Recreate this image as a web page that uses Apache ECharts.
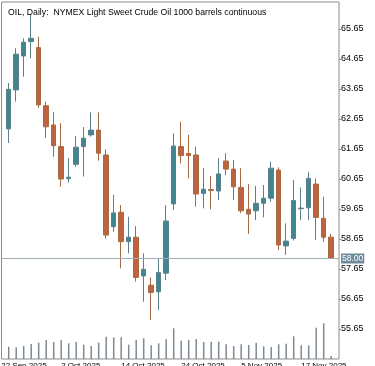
<!DOCTYPE html>
<html>
<head>
<meta charset="utf-8">
<style>html,body{margin:0;padding:0;background:#fff;}#c{width:375px;height:366px;}</style>
<script src="https://cdn.jsdelivr.net/npm/echarts@6/dist/echarts.min.js"></script>
</head>
<body>
<div id="c"></div>
<script>
const dates = ['22 Sep 2025','23 Sep 2025','24 Sep 2025','25 Sep 2025','26 Sep 2025','29 Sep 2025','30 Sep 2025','1 Oct 2025','2 Oct 2025',
  '3 Oct 2025','6 Oct 2025','7 Oct 2025','8 Oct 2025','9 Oct 2025','10 Oct 2025','13 Oct 2025','14 Oct 2025',
  '15 Oct 2025','16 Oct 2025','17 Oct 2025','20 Oct 2025','21 Oct 2025','22 Oct 2025','23 Oct 2025','24 Oct 2025',
  '27 Oct 2025','28 Oct 2025','29 Oct 2025','30 Oct 2025','31 Oct 2025','3 Nov 2025','4 Nov 2025','5 Nov 2025',
  '6 Nov 2025','7 Nov 2025','10 Nov 2025','11 Nov 2025','12 Nov 2025','13 Nov 2025','14 Nov 2025','17 Nov 2025',
  '18 Nov 2025','19 Nov 2025','20 Nov 2025','21 Nov 2025'];
// first date (22 Sep) is off the left edge: no visible candle
const opens  = [null,62.32,63.62,64.75,65.23,65.03,63.09,62.45,61.73,60.66,61.14,61.73,62.12,62.28,61.45,59.06,59.54,
  58.56,58.71,57.42,57.11,56.89,57.51,59.82,61.73,61.50,61.45,60.17,60.30,60.25,61.25,60.98,60.37,
  59.64,59.59,59.84,60.01,60.95,58.42,58.67,59.66,59.69,60.48,59.34,58.71];
const closes = [null,63.64,64.81,65.21,65.34,63.12,62.39,61.76,60.65,60.71,61.71,62.01,62.28,61.51,58.78,59.52,58.56,
  58.71,57.37,57.64,56.87,57.53,59.25,61.75,61.43,61.43,60.15,60.31,60.27,60.82,60.98,60.39,59.59,
  59.48,59.84,60.01,61.01,58.45,58.58,59.93,59.68,60.67,59.37,58.71,58.00];
const lows   = [null,61.85,63.23,64.06,64.67,63.02,62.02,61.39,60.39,60.53,61.06,60.73,62.06,61.26,58.67,58.89,57.67,
  58.17,57.23,56.56,55.95,56.28,57.28,59.62,61.17,60.67,59.73,59.67,59.64,59.95,60.78,59.95,59.51,
  58.82,59.28,59.37,59.89,58.28,58.12,58.60,59.28,59.28,58.62,58.56,57.98];
const highs  = [null,63.85,65.01,65.34,66.12,65.39,63.23,62.88,62.51,61.34,62.08,62.38,62.87,62.87,61.64,60.12,59.78,
  59.39,59.08,58.17,57.37,57.99,59.78,62.17,62.56,62.12,61.73,61.01,60.75,61.34,61.51,61.28,61.01,
  60.48,60.42,60.45,61.23,61.04,59.17,60.62,60.37,60.89,60.67,60.06,58.82];
const volumes = [null,308,292,325,375,408,475,425,475,392,425,358,325,408,558,542,542,
  358,475,518,342,392,492,768,458,475,500,425,432,432,368,325,368,
  350,408,318,300,368,382,568,342,342,782,892,75];
const priceTicks = [55.65,56.65,57.65,58.65,59.65,60.65,61.65,62.65,63.65,64.65,65.65];
const lastPrice = 58.00;
const titleText = 'OIL, Daily:  NYMEX Light Sweet Crude Oil 1000 barrels continuous';

const ohlc = dates.map((d, i) => opens[i] === null ? '-' : [opens[i], closes[i], lows[i], highs[i]]);
const yMin = 54.65, yMax = 66.55;
const FONT = 'Liberation Sans';

const chart = echarts.init(document.getElementById('c'), null, {renderer: 'canvas'});
chart.setOption({
  animation: false,
  backgroundColor: '#ffffff',
  title: {
    text: titleText, left: 3, top: 3,
    textStyle: {fontFamily: FONT, fontSize: 8.7, fontWeight: 'normal', color: '#000'}
  },
  grid: [
    {left: 1.5, right: 36, top: 2, height: 357, show: true, borderColor: '#8c8c8c', borderWidth: 1,
      backgroundColor: 'transparent', containLabel: false, outerBoundsMode: 'none'},
    {left: -2.55, width: 337.5, top: 2, height: 357, containLabel: false, outerBoundsMode: 'none'}
  ],
  xAxis: [
    {type: 'category', gridIndex: 0, data: dates, show: false},
    {type: 'category', gridIndex: 1, data: dates, boundaryGap: true,
      axisLine: {show: false}, axisTick: {show: false},
      axisLabel: {show: true, interval: (idx) => idx % 8 === 0, align: 'left', margin: 3,
        fontFamily: FONT, fontSize: 8, color: '#000'}}
  ],
  yAxis: [
    {type: 'value', gridIndex: 0, position: 'right', min: yMin, max: yMax, interval: 1,
      splitLine: {show: false}, axisLine: {show: false},
      axisTick: {show: true, length: 2, lineStyle: {color: '#8c8c8c'}},
      axisLabel: {margin: 2, fontFamily: FONT, fontSize: 9, color: '#000',
        showMinLabel: false, showMaxLabel: false,
        formatter: (v) => {
          const hit = priceTicks.find(t => Math.abs(t - v) < 1e-6);
          return hit !== undefined ? hit.toFixed(2) : '';
        }}},
    {type: 'value', gridIndex: 1, min: yMin, max: yMax, show: false},
    {type: 'value', gridIndex: 1, min: 0, max: 8925, show: false}
  ],
  series: [
    {type: 'line', xAxisIndex: 0, yAxisIndex: 0, data: closes, silent: true,
      showSymbol: false, lineStyle: {opacity: 0, width: 0},
      markLine: {silent: true, symbol: 'none',
        lineStyle: {color: '#9fadb5', width: 1, type: 'solid'},
        label: {show: true, position: 'end', distance: 2, formatter: () => lastPrice.toFixed(2),
          backgroundColor: '#6f8b9b', color: '#fff', fontFamily: FONT, fontSize: 8.5, padding: [1, 1, 0, 1]},
        data: [{yAxis: lastPrice}]}},
    {type: 'bar', xAxisIndex: 1, yAxisIndex: 2, data: volumes, barWidth: 1.5,
      itemStyle: {color: '#7f8993'}, silent: true},
    {type: 'candlestick', xAxisIndex: 1, yAxisIndex: 1, data: ohlc, barWidth: 5,
      itemStyle: {color: '#3f8690', color0: '#c0613f', borderColor: '#5b808a', borderColor0: '#a66a42', borderWidth: 1}}
  ]
});
</script>
</body>
</html>
